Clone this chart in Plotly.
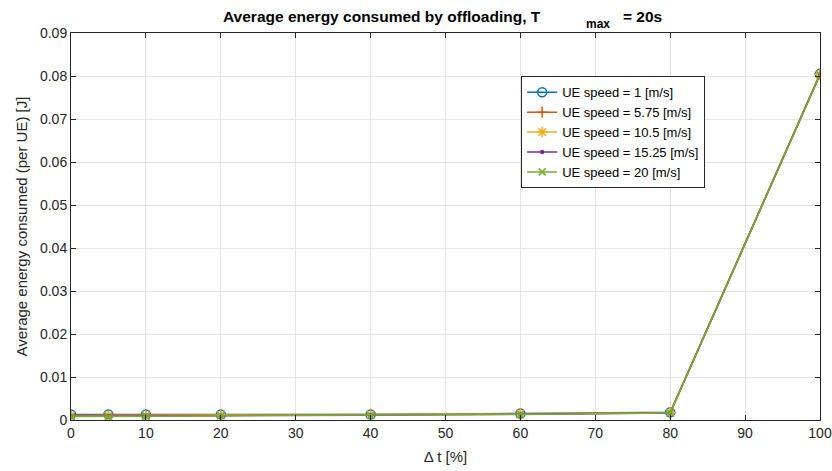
import plotly.graph_objects as go

delta_t = [0, 5, 10, 20, 40, 60, 80, 100]
speed_names = ["UE speed = 1 [m/s]", "UE speed = 5.75 [m/s]", "UE speed = 10.5 [m/s]",
               "UE speed = 15.25 [m/s]", "UE speed = 20 [m/s]"]
energy_1 = [0.0013, 0.0013, 0.0013, 0.0013, 0.0013, 0.0015, 0.0018, 0.0805]
energy_575 = [0.0011, 0.0011, 0.0011, 0.0012, 0.0013, 0.0014, 0.0017, 0.0804]
energy_105 = [0.0010, 0.0010, 0.0010, 0.0011, 0.0012, 0.0014, 0.0017, 0.0804]
energy_1525 = [0.0009, 0.0009, 0.0010, 0.0010, 0.0011, 0.0013, 0.0016, 0.0803]
energy_20 = [0.0008, 0.0008, 0.0009, 0.0010, 0.0011, 0.0013, 0.0016, 0.0803]
series = [energy_1, energy_575, energy_105, energy_1525, energy_20]

colors = ["#0072BD", "#D95319", "#EDB120", "#7E2F8E", "#77AC30"]
symbols = ["circle-open", "cross-thin-open", "asterisk-open", "circle", "x-thin-open"]
sizes = [9, 8, 9, 3, 7]

fig = go.Figure()
for name, ys, c, s, sz in zip(speed_names, series, colors, symbols, sizes):
    fig.add_trace(go.Scatter(
        x=delta_t, y=ys, name=name, mode="lines+markers",
        line=dict(color=c, width=1.5),
        marker=dict(symbol=s, size=sz, color=c, line=dict(color=c, width=1.5)),
    ))

font = "Liberation Sans, Arial, sans-serif"
axis_common = dict(
    showgrid=True, gridcolor="#E5E5E5", gridwidth=1,
    showline=True, linecolor="#262626", linewidth=1, mirror="ticks",
    ticks="inside", ticklen=5, tickcolor="#262626",
    tickfont=dict(family=font, size=14, color="#262626"),
    zeroline=False, automargin=False,
)
fig.update_xaxes(range=[0, 100], dtick=10,
                 title=dict(text="Δ t [%]", font=dict(family=font, size=15, color="#262626"), standoff=11),
                 **axis_common)
fig.update_yaxes(range=[0, 0.09], dtick=0.01, tickformat="~g",
                 title=dict(text="Average energy consumed (per UE) [J]", font=dict(family=font, size=15, color="#262626"), standoff=8),
                 **axis_common)

fig.update_layout(
    width=832, height=471,
    margin=dict(l=71, r=12, t=33, b=51),
    plot_bgcolor="white", paper_bgcolor="white",
    font=dict(family=font, color="#262626"),
    legend=dict(x=0.601, y=0.888, xanchor="left", yanchor="top",
                bgcolor="white", bordercolor="#262626", borderwidth=1,
                font=dict(family=font, size=13, color="#000000"),
                itemwidth=30, tracegroupgap=0),
)

pw = 832 - 71 - 12
ph = 471 - 33 - 51
def px(x):
    return (x - 71) / pw
def py(y):
    return (420 - y) / ph

fig.add_annotation(text="<b>Average energy consumed by offloading, T</b>", xref="paper", yref="paper",
                   x=px(543), y=py(16), xanchor="right", yanchor="middle", showarrow=False,
                   font=dict(family=font, size=15.5, color="#000"))
fig.add_annotation(text="<b>max</b>", xref="paper", yref="paper",
                   x=px(584), y=py(24), xanchor="left", yanchor="middle", showarrow=False,
                   font=dict(family=font, size=12, color="#000"))
fig.add_annotation(text="<b>= 20s</b>", xref="paper", yref="paper",
                   x=px(621), y=py(16), xanchor="left", yanchor="middle", showarrow=False,
                   font=dict(family=font, size=15.5, color="#000"))

fig.write_html("out.html")
